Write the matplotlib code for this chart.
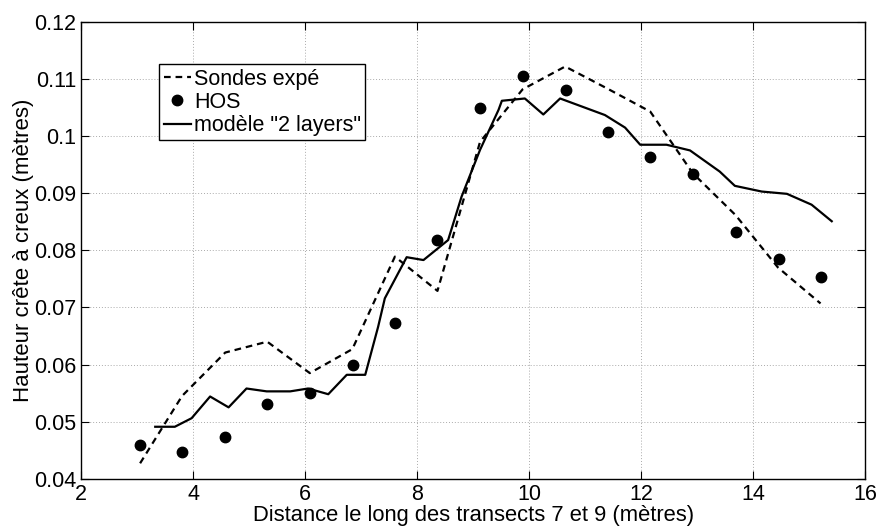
import matplotlib
matplotlib.use('Agg')
import matplotlib.pyplot as plt

plt.rcParams['font.family'] = ['Liberation Sans', 'DejaVu Sans']

# Sondes expe (dashed)
sondes_x = [3.05, 3.80, 4.57, 5.32, 6.08, 6.84, 7.60, 8.36, 9.12, 9.88,
            10.64, 11.40, 12.16, 12.92, 13.68, 14.44, 15.20]
sondes_y = [0.0427, 0.0545, 0.0621, 0.0640, 0.0585, 0.0627, 0.0789, 0.0729,
            0.0990, 0.1082, 0.1122, 0.1083, 0.1043, 0.0935, 0.0862, 0.0770,
            0.0707]

# HOS (markers)
hos_x = [3.05, 3.80, 4.57, 5.32, 6.08, 6.86, 7.61, 8.36, 9.12, 9.88,
         10.65, 11.41, 12.16, 12.92, 13.69, 14.45, 15.20]
hos_y = [0.0459, 0.0446, 0.0473, 0.0530, 0.0551, 0.0599, 0.0673, 0.0819,
         0.1049, 0.1105, 0.1080, 0.1007, 0.0964, 0.0934, 0.0832, 0.0785,
         0.0753]

# modele "2 layers" (solid)
model_x = [3.32, 3.67, 3.97, 4.30, 4.63, 4.95, 5.31, 5.73, 6.05, 6.41,
           6.74, 7.07, 7.30, 7.42, 7.81, 8.11, 8.55, 8.79, 9.12, 9.45,
           9.51, 9.92, 10.25, 10.55, 11.35, 11.71, 11.98, 12.45, 12.87,
           13.40, 13.67, 14.15, 14.60, 15.04, 15.40]
model_y = [0.0491, 0.0491, 0.0506, 0.0544, 0.0525, 0.0558, 0.0553, 0.0553,
           0.0558, 0.0548, 0.0582, 0.0582, 0.0666, 0.0716, 0.0788, 0.0783,
           0.0818, 0.0894, 0.0976, 0.1046, 0.1062, 0.1066, 0.1038, 0.1066,
           0.1037, 0.1015, 0.0985, 0.0985, 0.0975, 0.0938, 0.0913, 0.0903,
           0.0899, 0.0880, 0.0851]

xticks = [2, 4, 6, 8, 10, 12, 14, 16]
yticks = [0.04, 0.05, 0.06, 0.07, 0.08, 0.09, 0.1, 0.11, 0.12]
ytick_labels = ['0.04', '0.05', '0.06', '0.07', '0.08', '0.09', '0.1', '0.11', '0.12']

fs = 15.5

fig = plt.figure(figsize=(8.77, 5.26), dpi=100)
ax = fig.add_axes([0.0927, 0.0899, 0.894, 0.8683])

ax.plot(sondes_x, sondes_y, color='black', lw=1.6, linestyle=(0, (3, 2.2)),
        label='Sondes expé')
ax.plot(hos_x, hos_y, 'o', color='black', markersize=7.5, label='HOS')
ax.plot(model_x, model_y, color='black', lw=1.6, label='modèle "2 layers"')

ax.set_xlim(2, 16)
ax.set_ylim(0.04, 0.12)
ax.set_xticks(xticks)
ax.set_xticklabels([str(t) for t in xticks])
ax.set_yticks(yticks)
ax.set_yticklabels(ytick_labels)
ax.grid(True, linestyle=(0, (1, 2)), color='#aaaaaa', lw=0.7)
ax.tick_params(direction='in', length=5.6, width=0.8, top=True, right=True,
               labelsize=fs)
ax.tick_params(axis='x', pad=4)
ax.tick_params(axis='y', pad=3.5)
for s in ax.spines.values():
    s.set_linewidth(1.0)

ax.set_xlabel('Distance le long des transects 7 et 9 (mètres)', fontsize=15.8,
              labelpad=0)
ax.set_ylabel('Hauteur crête à creux (mètres)', fontsize=16, labelpad=0)

leg = ax.legend(loc='upper left', bbox_to_anchor=(0.0995, 0.907),
                borderaxespad=0, fontsize=fs, handlelength=1.25,
                handletextpad=0.15, borderpad=0.2, labelspacing=0.1,
                fancybox=False, framealpha=1, edgecolor='black')
leg.get_frame().set_linewidth(1.0)

fig.savefig('out.png', dpi=100)
